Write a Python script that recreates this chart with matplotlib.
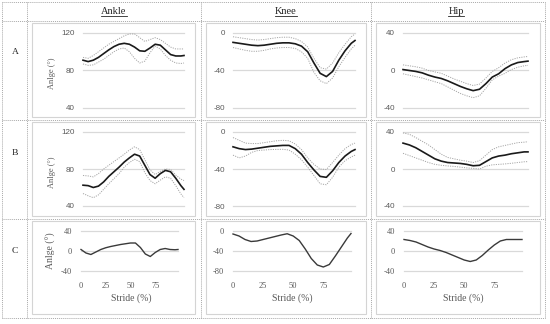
import matplotlib
matplotlib.use('Agg')
import matplotlib.pyplot as plt
from matplotlib.lines import Line2D
from matplotlib.patches import Rectangle

plt.rcParams['axes.unicode_minus'] = False

# ---------------- data ----------------
stride = [0, 5, 10, 15, 20, 25, 30, 35, 40, 45, 50, 55, 60, 65, 70, 75, 80, 85, 90, 95, 98]

columns = ["Ankle", "Knee", "Hip"]
rows = ["A", "B", "C"]

ankle_a_mean = [91, 89.5, 91, 94, 98, 102, 105.5, 108, 109, 108, 105, 101, 100.5, 104, 108, 107, 102, 97, 95.5, 95.5, 96]
ankle_a_upper = [94, 93, 96, 100, 104, 108, 111, 114, 117, 119, 119, 115, 111, 113, 115, 113, 109, 105, 103, 103, 103]
ankle_a_lower = [87, 85.5, 86, 89, 92, 96, 100, 103, 104, 100, 93, 88, 90, 99, 106, 103, 96, 91, 88, 87.5, 88]

knee_a_mean = [-10, -11, -12, -13, -13.5, -13, -12, -11, -10.5, -10.5, -11.5, -14, -20, -32, -43, -46.5, -41, -29, -19, -11, -8]
knee_a_upper = [-4, -5, -6, -7, -7.5, -7, -6, -5, -4.5, -4.5, -6, -9, -15, -27, -37, -38.5, -32, -21, -12, -4, -1]
knee_a_lower = [-15.5, -17, -18.5, -19.5, -19.5, -18.5, -17, -16, -15.5, -15.5, -16.5, -20, -27, -42, -51, -54, -48, -36, -26, -17, -13]

hip_a_mean = [1, 0, -1, -2.5, -5, -7, -8.5, -11, -14, -17, -19.5, -21.5, -20, -14, -7, -3.5, 2, 6, 8.5, 9.5, 10]
hip_a_upper = [6, 5, 4, 2.5, 0, -1.5, -3, -6, -9, -11.5, -14, -16, -14.5, -8, -1, 3, 8, 11.5, 13.5, 14.5, 15]
hip_a_lower = [-3.5, -5, -6.5, -8, -10, -12, -14, -17.5, -21, -24.5, -27, -29, -27, -19, -10, -6, -3, 1, 3.5, 5, 5.5]

ankle_b_mean = [62.5, 62, 60, 61.5, 66, 72, 77, 82, 87.5, 92, 96, 94, 84, 74, 70, 75, 78.5, 77, 70, 62, 58]
ankle_b_upper = [73, 72.5, 71.5, 75, 80, 84, 88, 92, 96, 100.5, 104, 101, 90, 79, 74, 77.5, 80, 79.5, 73.5, 69, 67.5]
ankle_b_lower = [53.5, 51, 49, 52, 58, 64, 69.5, 75, 82, 87, 90.5, 88, 76, 67.5, 64, 68, 71.5, 70, 62, 53, 49]

knee_b_mean = [-16, -18, -19, -18.5, -17.5, -16.5, -15.5, -15, -14.5, -14.5, -18, -24, -33, -41, -48, -49, -42, -33, -26, -21, -19]
knee_b_upper = [-6, -9, -12, -12.5, -12.5, -11.5, -10.5, -9.5, -9, -9.5, -13, -19, -28, -35, -40, -40.5, -33, -25, -18, -13.5, -12]
knee_b_lower = [-25, -28, -26, -22, -20, -19.5, -19, -18.8, -18.7, -19.5, -24, -30, -38, -47, -56, -57, -49, -38, -31, -27, -25]

hip_b_mean = [28, 26, 23, 19, 15, 11, 8.5, 7, 6.5, 6, 5, 3.5, 4, 8, 12, 14, 15, 16.5, 17.5, 18.5, 18.5]
hip_b_upper = [39, 37.5, 34, 30, 26, 21, 16, 12.5, 11, 9.5, 8.5, 7, 9, 15, 21, 24, 25.5, 27, 28.5, 29, 29.5]
hip_b_lower = [17, 14.5, 12, 9.5, 7, 5, 4, 3.3, 2.8, 2, 1.2, 0.7, 0, 3, 4.5, 5, 5.5, 6.2, 7, 7.8, 8]

ankle_c = [3, -4, -7, -2, 3, 6.5, 9, 11, 13, 14.5, 16, 16, 7, -6, -11, -3, 3, 5, 3, 2.5, 3]
knee_c = [-6, -10, -17, -21, -20, -17, -14, -11, -8, -5.5, -10, -19, -36, -55, -68, -72, -67, -50, -32, -14, -5]
hip_c = [23, 21, 18, 13, 8, 4, 1, -3, -8, -13, -18, -21, -18, -9, 2, 12, 20, 23, 23, 23, 23]

yticks_ankle_ab = [40, 80, 120]
yticks_knee_ab = [-80, -40, 0]
yticks_hip_ab = [-40, 0, 40]
yticks_ankle_c = [-40, 0, 40]
yticks_knee_c = [-80, -40, 0]
yticks_hip_c = [-40, 0, 40]
xticks_c = [0, 25, 50, 75]

# ---------------- layout ----------------
W, H = 550, 324
fig = plt.figure(figsize=(W / 100, H / 100), dpi=100)

def fx(x):
    return x / W

def fy(y):
    return 1 - y / H

def rect(x0, y0, x1, y1):
    return [x0 / W, 1 - y1 / H, (x1 - x0) / W, (y1 - y0) / H]

SERIF = ['Liberation Serif', 'DejaVu Serif']
SANS = ['Liberation Sans', 'DejaVu Sans']

# dotted table grid
dot = dict(color='#a9a9a9', lw=0.7, ls=(0, (1, 1)))
for x in [2, 27, 201, 371, 545]:
    fig.add_artist(Line2D([fx(x)] * 2, [fy(2), fy(318)], **dot))
for y in [2, 21, 120, 219, 318]:
    fig.add_artist(Line2D([fx(2), fx(545)], [fy(y)] * 2, **dot))

# cell boxes
col_box = [(32, 195), (206, 366), (376, 540)]
row_box = [(23, 117), (122, 216), (221, 314)]
for (x0, x1) in col_box:
    for (y0, y1) in row_box:
        fig.add_artist(Rectangle((fx(x0), fy(y1)), (x1 - x0) / W, (y1 - y0) / H,
                                 transform=fig.transFigure, fill=False,
                                 edgecolor='#d4d4d4', lw=0.8))

# headers (baseline anchored, underlined)
header_pos = [114, 286, 456]
header_texts = []
for name, x in zip(columns, header_pos):
    t = fig.text(fx(x), fy(14.5), name, ha='center', va='baseline',
                 fontsize=7.5, family=SERIF, color='#262626')
    header_texts.append(t)

# row labels
for lab, y in zip(rows, [52, 153, 251]):
    fig.text(fx(15), fy(y), lab, ha='center', va='center', fontsize=6.8,
             family=SERIF, color='#262626')

# axes rectangles
ax_x = [(83, 184), (233, 355), (403, 528)]
ax_x_c = [(81, 178), (233, 351), (404, 522)]
ax_y = [(33, 108), (132, 206)]
ax_y_c = (231, 271)

ab_data = [
    [(ankle_a_mean, ankle_a_upper, ankle_a_lower, yticks_ankle_ab),
     (knee_a_mean, knee_a_upper, knee_a_lower, yticks_knee_ab),
     (hip_a_mean, hip_a_upper, hip_a_lower, yticks_hip_ab)],
    [(ankle_b_mean, ankle_b_upper, ankle_b_lower, yticks_ankle_ab),
     (knee_b_mean, knee_b_upper, knee_b_lower, yticks_knee_ab),
     (hip_b_mean, hip_b_upper, hip_b_lower, yticks_hip_ab)],
]
c_data = [(ankle_c, yticks_ankle_c), (knee_c, yticks_knee_c), (hip_c, yticks_hip_c)]

grid_color = '#d9d9d9'
tick_color = '#595959'

def style_axes(ax, yt):
    for s in ax.spines.values():
        s.set_visible(False)
    ax.set_ylim(yt[0], yt[-1])
    ax.set_xlim(stride[0], stride[-1])
    for v in yt:
        ax.axhline(v, color=grid_color, lw=0.9, zorder=0, clip_on=False)
    ax.set_yticks(yt)
    ax.set_facecolor('none')

for r in range(2):
    for c in range(3):
        mean, up, lo, yt = ab_data[r][c]
        ax = fig.add_axes(rect(ax_x[c][0], ax_y[r][0], ax_x[c][1], ax_y[r][1]))
        style_axes(ax, yt)
        ax.plot(stride, up, color='#a6a6a6', lw=0.7, ls=(0, (1.2, 1.2)), clip_on=False)
        ax.plot(stride, lo, color='#a6a6a6', lw=0.7, ls=(0, (1.2, 1.2)), clip_on=False)
        ax.plot(stride, mean, color='#1a1a1a', lw=1.2, clip_on=False)
        ax.set_xticks([])
        ax.tick_params(axis='y', length=0, pad=6, labelsize=5.8, labelcolor=tick_color)
        for lab in ax.get_yticklabels():
            lab.set_family(SANS)
        if c == 0:
            yc = (ax_y[r][0] + ax_y[r][1]) / 2 + 3
            fig.text(fx(52), fy(yc), 'Anlge (°)', rotation=90, ha='center', va='center',
                     fontsize=6, family=SERIF, color=tick_color)

for c in range(3):
    vals, yt = c_data[c]
    ax = fig.add_axes(rect(ax_x_c[c][0], ax_y_c[0], ax_x_c[c][1], ax_y_c[1]))
    style_axes(ax, yt)
    ax.plot(stride, vals, color='#3a3a3a', lw=1.0, clip_on=False)
    ax.set_xticks(xticks_c)
    ax.tick_params(axis='both', length=0, labelsize=6, labelcolor=tick_color)
    ax.tick_params(axis='y', pad=6.5)
    ax.tick_params(axis='x', pad=8)
    for lab in ax.get_yticklabels() + ax.get_xticklabels():
        lab.set_family(SERIF)
    xc = [131, 292, 463][c]
    fig.text(fx(xc), fy(298), 'Stride (%)', ha='center', va='center',
             fontsize=7, family=SERIF, color=tick_color)
    if c == 0:
        fig.text(fx(51), fy(251), 'Anlge (°)', rotation=90, ha='center', va='center',
                 fontsize=7, family=SERIF, color=tick_color)

# underline headers just below baseline
fig.canvas.draw()
renderer = fig.canvas.get_renderer()
inv = fig.transFigure.inverted()
for t in header_texts:
    bb = t.get_window_extent(renderer)
    (x0, _), (x1, _) = inv.transform([(bb.x0, bb.y0), (bb.x1, bb.y1)])
    ybase = t.get_position()[1] - 1.5 / H
    fig.add_artist(Line2D([x0, x1], [ybase, ybase], color='#262626', lw=0.6))

fig.savefig('out.png', dpi=100)
